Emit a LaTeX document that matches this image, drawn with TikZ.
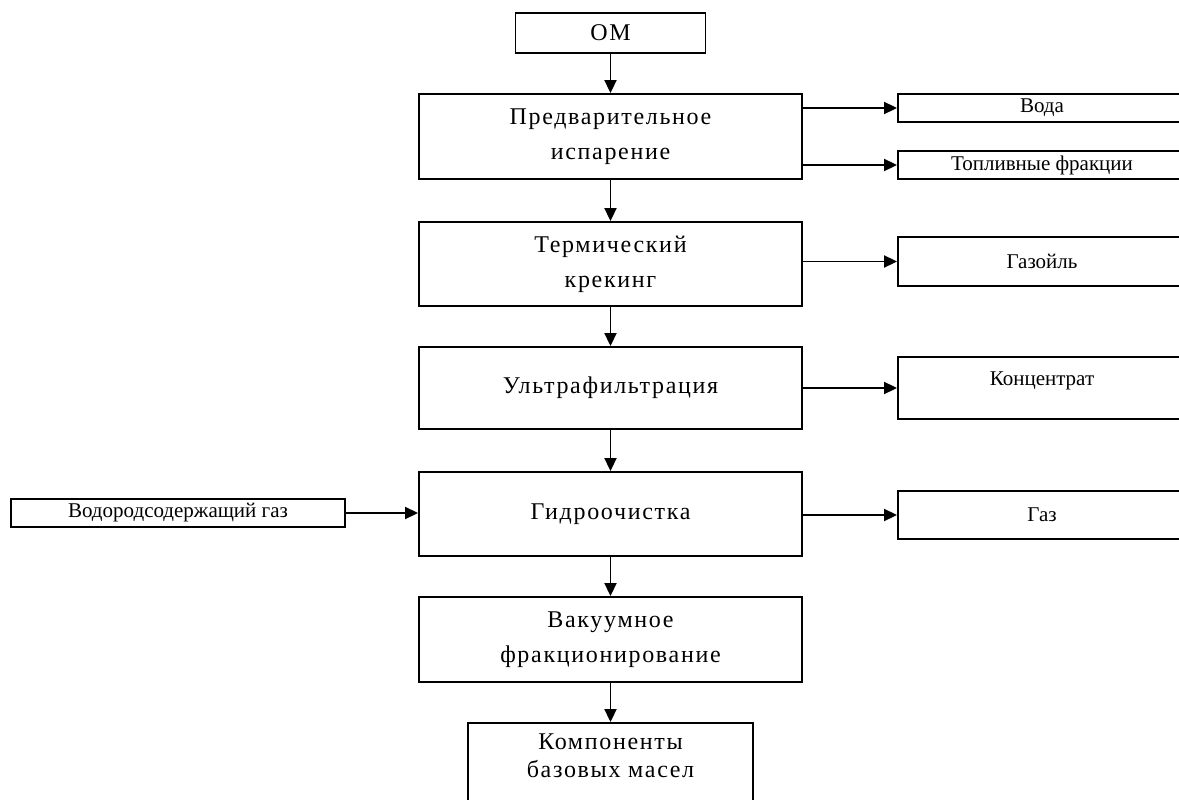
\documentclass[tikz,border=0pt]{standalone}
\usepackage{fontspec}
\setmainfont{Liberation Serif}
\newfontfamily\stagefont[LetterSpace=7]{Liberation Serif}
\usetikzlibrary{arrows.meta}

\begin{document}
\begin{tikzpicture}[x=1pt, y=-1pt,
  stage/.style={draw, line width=1.9pt, minimum width=383pt, inner sep=0pt, align=center, font=\stagefont\fontsize{24}{35}\selectfont},
  side/.style={draw, line width=1.9pt, minimum width=288pt, inner sep=0pt, align=center, font=\fontsize{21}{24}\selectfont},
  arr/.style={line width=1.9pt, -{Triangle[length=13pt,width=12pt]}}]

\useasboundingbox (0,0) rectangle (1179,800);

\node [stage, minimum width=190pt, minimum height=40pt] (om) at (610.5,33) {OM};
\node [stage, minimum height=85pt] (isp) at (610.5,136.5) {Предварительное\\испарение};
\node [stage, minimum height=84pt] (krek) at (610.5,264) {Термический\\крекинг};
\node [stage, minimum height=82pt] (ultra) at (610.5,388) {Ультрафильтрация};
\node [stage, minimum height=84pt] (gidro) at (610.5,514) {Гидроочистка};
\node [stage, minimum height=85pt] (vakuum) at (610.5,639.5) {Вакуумное\\фракционирование};
\node [stage, minimum width=285pt, minimum height=87pt, text depth=21pt, font=\stagefont\fontsize{24}{28}\selectfont] (komp) at (610.5,766.5) {Компоненты\\базовых масел};

\node [side, minimum height=28pt] (voda) at (1042,108) {Вода};
\node [side, minimum height=28pt] (topl) at (1042,165) {Топливные фракции};
\node [side, minimum height=49pt] (gazoil) at (1042,261.5) {Газойль};
\node [side, minimum height=62pt, text depth=19pt] (konc) at (1042,388) {Концентрат};
\node [side, minimum height=48pt] (gaz) at (1042,515) {Газ};
\node [side, minimum width=334pt, minimum height=28pt] (vodorod) at (178,513) {Водородсодержащий газ};

\draw [arr] (om) -- (isp);
\draw [arr] (isp) -- (krek);
\draw [arr] (krek) -- (ultra);
\draw [arr] (ultra) -- (gidro);
\draw [arr] (gidro) -- (vakuum);
\draw [arr] (vakuum) -- (komp);
\draw [arr] (voda.west -| isp.east) -- (voda.west);
\draw [arr] (topl.west -| isp.east) -- (topl.west);
\draw [arr] (gazoil.west -| krek.east) -- (gazoil.west);
\draw [arr] (konc.west -| ultra.east) -- (konc.west);
\draw [arr] (gaz.west -| gidro.east) -- (gaz.west);
\draw [arr] (vodorod.east) -- (vodorod.east -| gidro.west);

\end{tikzpicture}
\end{document}
